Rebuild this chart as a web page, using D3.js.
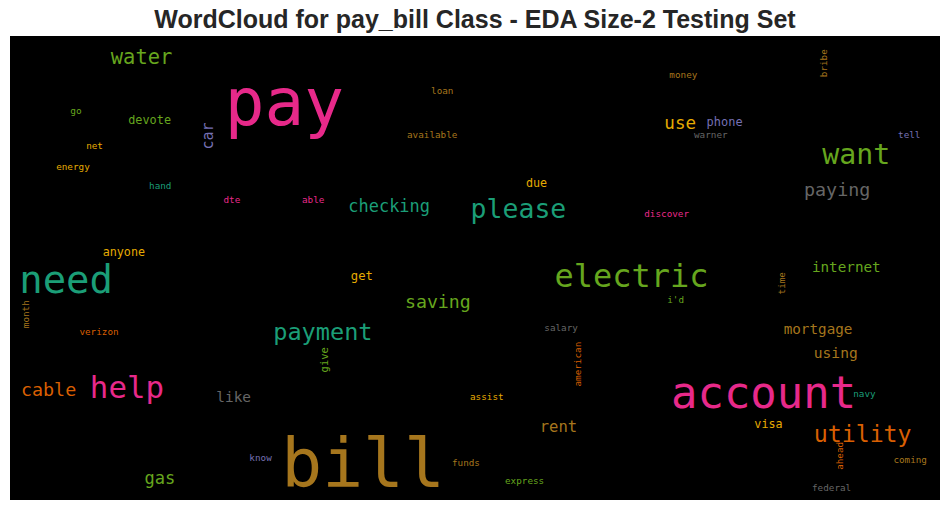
<!DOCTYPE html>
<html>
<head>
<meta charset="utf-8">
<script src="https://cdn.jsdelivr.net/npm/d3@7"></script>
<style>
  html, body { margin: 0; padding: 0; background: #ffffff; }
  svg { display: block; }
</style>
</head>
<body>
<svg id="chart" width="950" height="511"></svg>
<script>
// Word cloud content (positions/sizes in the 800x400 word-cloud canvas units)
const words = ["pay","bill","account","need","electric","please","want","help","payment","utility",
  "water","checking","paying","use","phone","saving","cable","gas","rent","mortgage",
  "using","internet","like","devote","anyone","due","get","visa","go","net",
  "energy","hand","dte","able","loan","available","money","warner","tell","discover",
  "i'd","verizon","salary","assist","navy","funds","express","know","coming","federal",
  "car","month","give","american","time","ahead","bribe"];
const weights = [56.8,58.5,37.8,33.5,27.5,22.8,24.3,26.5,20.3,20,
  17.6,14.6,15.8,15.1,10.3,15.7,15.8,14.7,13.4,12.3,
  12.6,12.3,12.4,10.2,10.1,10.1,10.5,10.1,8.2,8,
  8,8,8,8,8,8,8,8,8,8,
  8,8,8,8,8,8,8,8,8,8,
  12.9,8,9,8,8,8,8];
const cloudX = [184.8,233.3,568.6,7.9,468.4,396.2,698.8,68.7,226.4,691.3,
  86.7,291,683,562.9,599.2,339.7,9.4,115.7,455.7,665.5,
  691.4,689.8,177.5,101.7,79.7,443.8,293.2,640.3,51.8,65.5,
  39.7,119.6,183.6,251.2,362.2,341.5,567.2,588.4,763.9,545.6,
  565.4,59.7,459.6,395.7,725.4,380.2,425.8,205.9,759.9,689.9,
  174.5,16.6,273.8,490.8,666.7,716.6,702.4];
const cloudY = [76.7,388.5,321,221.8,216.1,156.6,110.3,312.3,262.1,349.7,
  24.4,151.5,137.7,79.9,77.6,234.7,310.3,386.2,341.1,256.9,
  277.3,203.2,315.5,75.9,189.4,130.4,210.3,338.2,67.2,97.4,
  115.8,132.2,144.2,144.2,50,88.2,35.9,88.2,88.2,155.8,
  230.4,258,254.3,314,311,370.4,386.5,366.4,368.4,392.2,
  97.8,251.9,290,302.2,222.8,374,35.5];
const rotations = [0,0,0,0,0,0,0,0,0,0,
  0,0,0,0,0,0,0,0,0,0,
  0,0,0,0,0,0,0,0,0,0,
  0,0,0,0,0,0,0,0,0,0,
  0,0,0,0,0,0,0,0,0,0,
  -90,-90,-90,-90,-90,-90,-90];
// index into the Dark2 colormap
const colorIdx = [3,6,3,0,4,0,4,3,0,1,
  4,0,7,5,2,4,1,4,6,6,
  6,4,7,4,5,5,5,5,4,5,
  5,0,3,3,6,6,6,7,2,3,
  4,1,7,5,0,6,4,2,6,7,
  2,6,4,1,6,1,6];
const title = "WordCloud for pay_bill Class - EDA Size-2 Testing Set";

const W = 950, H = 511;
const frame = {x0: 10, x1: 940, y0: 36, y1: 500};
const cloudW = 800, cloudH = 400;

const svg = d3.select("#chart");
const x = d3.scaleLinear().domain([0, cloudW]).range([frame.x0, frame.x1]);
const y = d3.scaleLinear().domain([0, cloudH]).range([frame.y0, frame.y1]);
const fontScale = d3.scaleLinear().domain([0, cloudW]).range([0, frame.x1 - frame.x0]);
const color = d3.scaleOrdinal().domain(d3.range(8)).range(d3.schemeDark2);

svg.append("rect")
  .attr("x", frame.x0).attr("y", frame.y0)
  .attr("width", frame.x1 - frame.x0).attr("height", frame.y1 - frame.y0)
  .attr("fill", "#000000");

const data = words.map((w, i) => ({
  text: w, size: weights[i], cx: cloudX[i], cy: cloudY[i], rot: rotations[i], c: colorIdx[i]
}));

svg.append("g").selectAll("text").data(data).join("text")
  .attr("transform", d => `translate(${x(d.cx)},${y(d.cy)}) rotate(${d.rot})`)
  .attr("font-family", "'DejaVu Sans Mono', monospace")
  .attr("font-size", d => fontScale(d.size))
  .attr("fill", d => color(d.c))
  .text(d => d.text);

svg.append("text")
  .attr("x", (frame.x0 + frame.x1) / 2)
  .attr("y", 27.5)
  .attr("text-anchor", "middle")
  .attr("font-family", "'Liberation Sans', Arial, sans-serif")
  .attr("font-weight", "bold")
  .attr("font-size", 25)
  .attr("fill", "#262626")
  .text(title);
</script>
</body>
</html>
